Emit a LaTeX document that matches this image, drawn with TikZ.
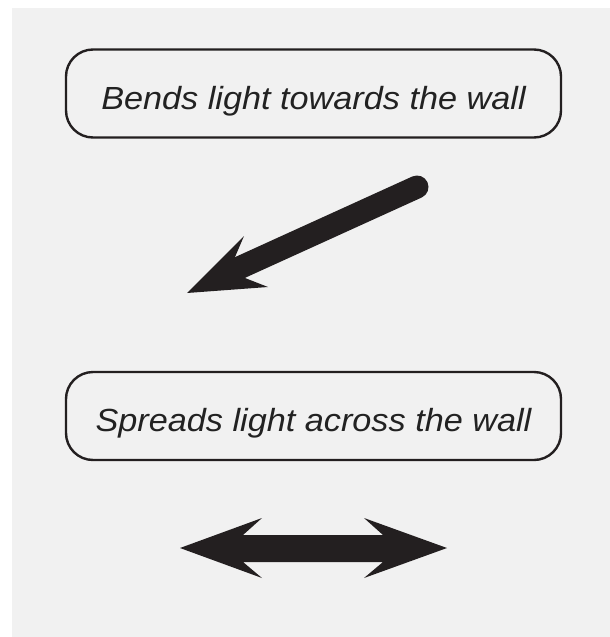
\documentclass[tikz,border=0pt]{standalone}
\usepackage{fontspec}
\setmainfont{Liberation Sans}[FakeStretch=1.07]
\definecolor{bg}{HTML}{F1F1F1}
\definecolor{ink}{HTML}{231F20}
\definecolor{txt}{HTML}{222222}
\tikzset{
  labelbox/.style={draw=ink, line width=2.4pt, rounded corners=27pt, minimum width=495pt, minimum height=88pt, inner sep=0pt, text height=31pt, text depth=0pt, text=txt, font=\fontsize{32}{36}\selectfont\itshape},
  arrowfill/.style={fill=ink, draw=none}
}
\begin{document}
\begin{tikzpicture}[x=1pt,y=-1pt]
\useasboundingbox (0,0) rectangle (610,637);
\fill[white] (0,0) rectangle (610,637);
\fill[bg] (12,8) rectangle (610,637);
% boxes
\node[labelbox] (top) at (313.5,93.5) {Bends light towards the wall};
\node[labelbox] (mid) at (313.5,416) {Spreads light across the wall};
% diagonal arrow
\coordinate (a1s) at (417,187);
\coordinate (a1n) at (240,267.5);
\draw[ink, line width=23pt, line cap=round] (a1s) -- (a1n);
\fill[arrowfill] (187,293) -- (244,236) -- (235,257) -- (245,278) -- (268,287) -- cycle;
% double arrow
\fill[arrowfill] (180,548) -- (262,518) -- (243,535) -- (383,535) -- (364,518) -- (447,548) -- (364,578) -- (383,562) -- (243,562) -- (262,578) -- cycle;
\end{tikzpicture}
\end{document}
